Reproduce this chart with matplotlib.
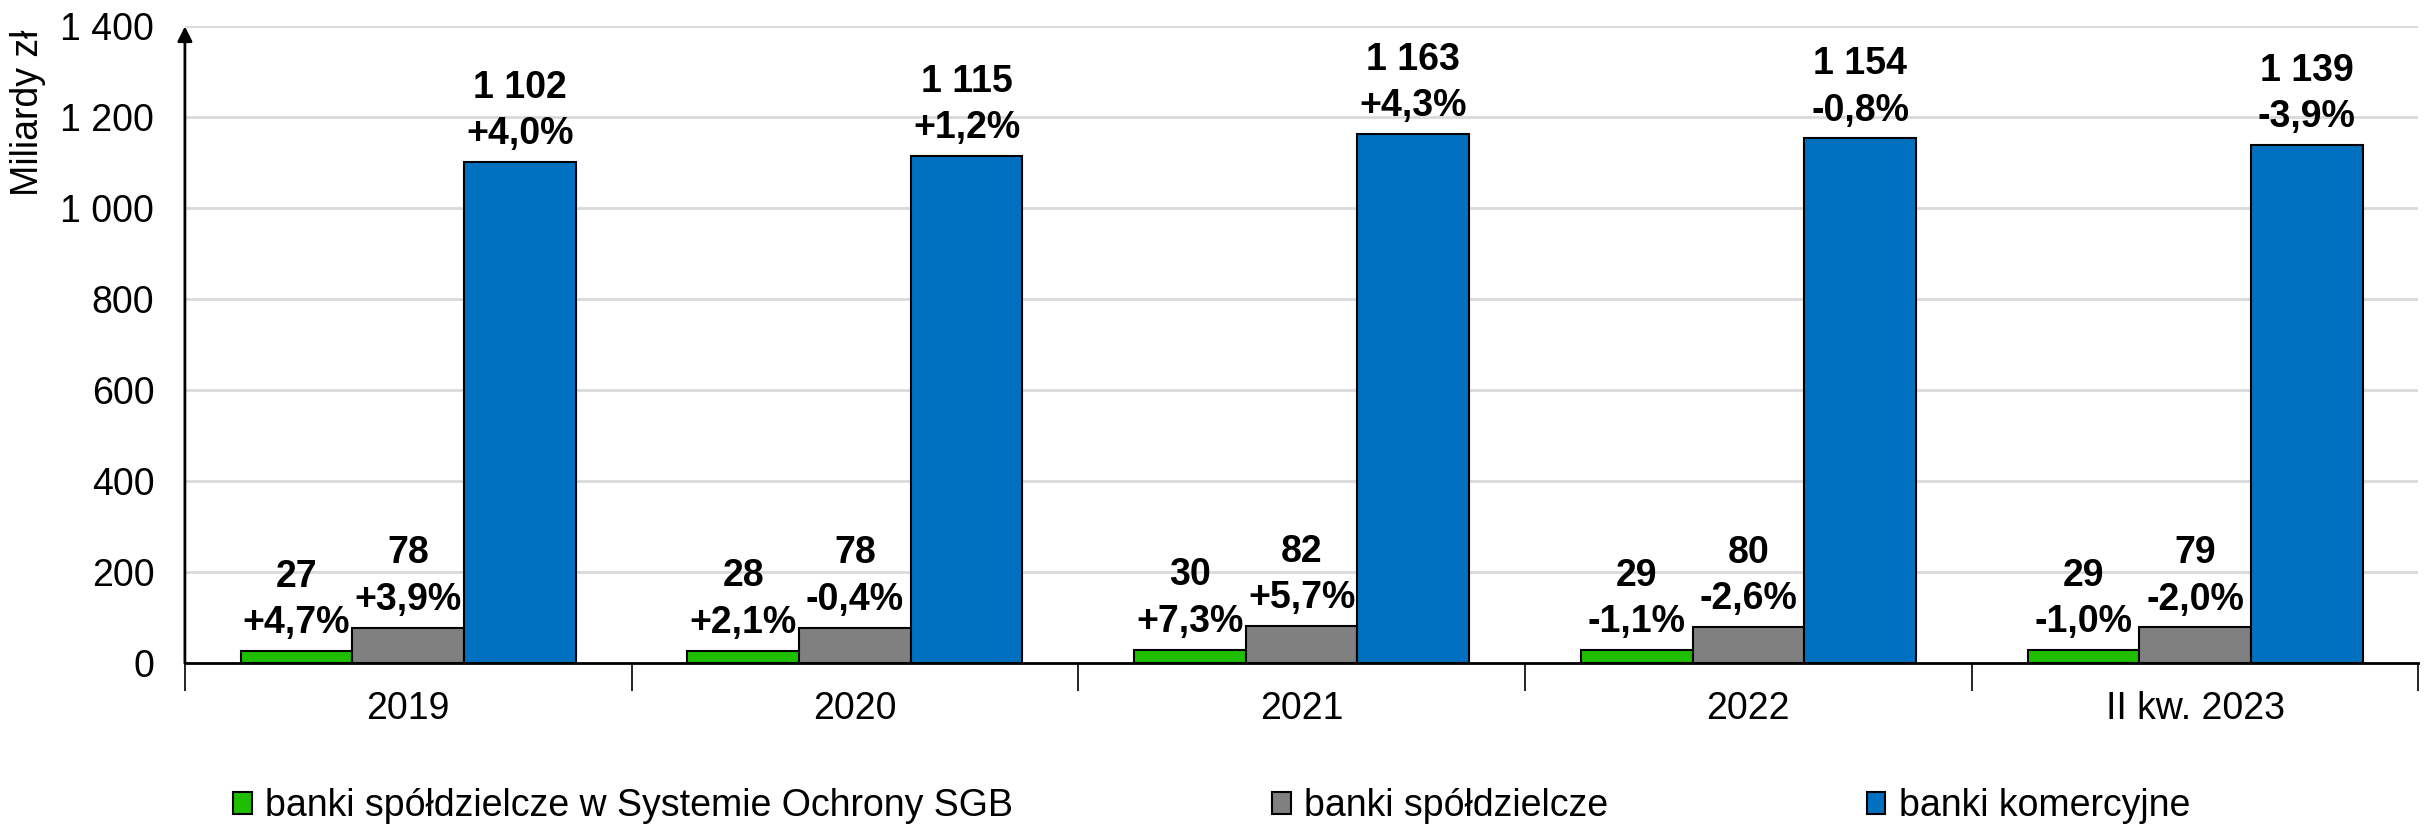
import matplotlib as mpl

mpl.use("Agg")
import matplotlib.pyplot as plt
import numpy as np

# data
categories = ["2019", "2020", "2021", "2022", "II kw. 2023"]
series_names = [
    "banki spółdzielcze w Systemie Ochrony SGB",
    "banki spółdzielcze",
    "banki komercyjne",
]
sgb_values = [27, 28, 30, 29, 29]
sgb_change = [4.7, 2.1, 7.3, -1.1, -1.0]
coop_values = [78, 78, 82, 80, 79]
coop_change = [3.9, -0.4, 5.7, -2.6, -2.0]
comm_values = [1102, 1115, 1163, 1154, 1139]
comm_change = [4.0, 1.2, 4.3, -0.8, -3.9]
y_ticks = [0, 200, 400, 600, 800, 1000, 1200, 1400]

GREEN = "#1fbf00"
GRAY = "#808080"
BLUE = "#0070c0"
GRID = "#d9d9d9"
FS = 27

mpl.rcParams.update(
    {
        "font.family": ["Liberation Sans", "DejaVu Sans"],
        "font.size": FS,
        "axes.spines.top": False,
        "axes.spines.right": False,
    }
)


def fmt_num(v):
    return f"{v:,}".replace(",", " ")


def fmt_pct(p):
    return f"{p:+.1f}%".replace(".", ",")


fig = plt.figure(figsize=(24.33, 8.25), dpi=100)
ax = fig.add_axes([0.076, 0.196, 0.918, 0.772])

x = np.arange(len(categories))
width = 0.25
groups = [
    (sgb_values, sgb_change, GREEN),
    (coop_values, coop_change, GRAY),
    (comm_values, comm_change, BLUE),
]
handles = []
for i, (vals, chg, color) in enumerate(groups):
    xs = x + (i - 1) * width
    bars = ax.bar(xs, vals, width, color=color, edgecolor="black",
                  linewidth=1.5, zorder=3, label=series_names[i])
    handles.append(bars)
    for xi, v, p in zip(xs, vals, chg):
        ax.annotate(f"{fmt_num(v)}\n{fmt_pct(p)}", (xi, v), xytext=(0, 7),
                    textcoords="offset points", ha="center", va="bottom",
                    fontsize=FS, fontweight="bold", linespacing=1.38,
                    zorder=4)

ax.set_xlim(-0.5, len(categories) - 0.5)
ax.set_ylim(0, 1400)
ax.set_yticks(y_ticks)
ax.set_yticklabels([fmt_num(t) for t in y_ticks])
ax.tick_params(axis="y", length=0, pad=22, labelsize=FS)
ax.grid(axis="y", color=GRID, linewidth=2, zorder=0)
ax.set_axisbelow(True)

# category boundaries as tick marks, labels centred between them
ax.set_xticks(np.arange(len(categories) + 1) - 0.5)
ax.set_xticklabels([])
ax.set_xticks(x, minor=True)
ax.set_xticklabels(categories, minor=True)
ax.tick_params(axis="x", which="major", length=20, width=1.2, color="black")
ax.tick_params(axis="x", which="minor", length=0, pad=20, labelsize=FS)

ax.spines["bottom"].set_linewidth(2)
ax.spines["bottom"].set_zorder(5)
ax.spines["left"].set_visible(False)
ax.annotate("", xy=(0, 1400), xytext=(0, 0),
            xycoords=("axes fraction", "data"),
            arrowprops=dict(arrowstyle="-|>", color="black", lw=2,
                            mutation_scale=22, shrinkA=0, shrinkB=0),
            zorder=6, annotation_clip=False)

ax.set_ylabel("Miliardy zł", fontsize=FS)
ax.yaxis.set_label_coords(-0.062, 0.865)

fig.legend(handles=handles, labels=series_names, loc="lower left",
           bbox_to_anchor=(0.082, -0.04), ncol=3, frameon=False,
           fontsize=FS, handlelength=0.5, handleheight=0.5,
           handletextpad=0.35, columnspacing=6.9)

fig.savefig("out.png", dpi=100)
